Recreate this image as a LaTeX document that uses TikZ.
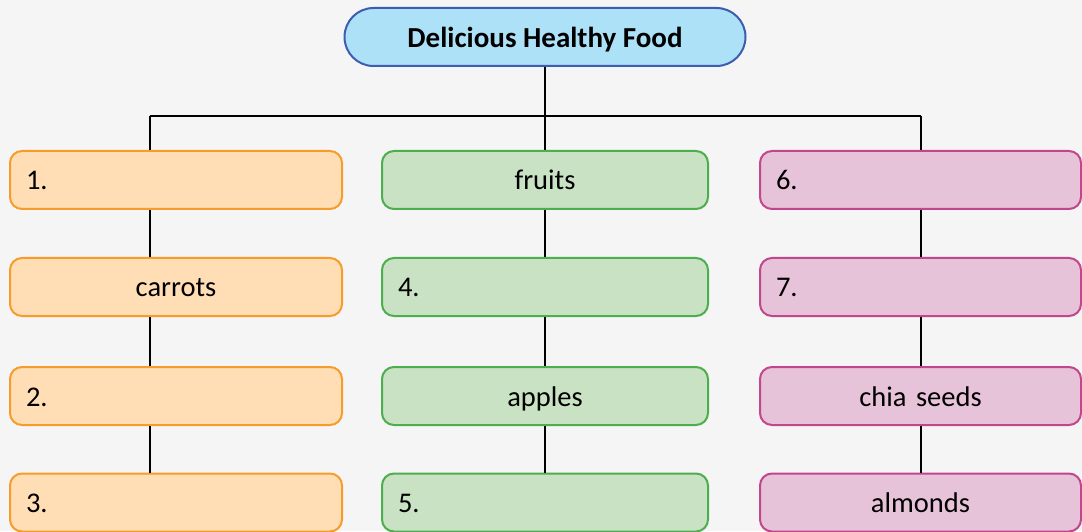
\documentclass[tikz,border=0pt]{standalone}
\usepackage{fontspec}
\setmainfont{Carlito}
\definecolor{bgc}{HTML}{F5F5F5}
\definecolor{topfill}{HTML}{ADE1F8}
\definecolor{topdraw}{HTML}{3D5DAE}
\definecolor{orfill}{HTML}{FFDEB6}
\definecolor{ordraw}{HTML}{F79B2B}
\definecolor{grfill}{HTML}{C9E2C4}
\definecolor{grdraw}{HTML}{4DAE4E}
\definecolor{pkfill}{HTML}{E7C3D9}
\definecolor{pkdraw}{HTML}{C1468C}
\tikzset{
  conn/.style={draw=black, line width=2pt},
  boxbase/.style={rectangle, rounded corners=12pt, line width=2pt, minimum height=58pt,
    inner xsep=16pt, inner ysep=0pt, text height=20pt, text depth=0pt,
    font=\fontsize{28.5}{32}\selectfont, anchor=center},
  orbox/.style={boxbase, fill=orfill, draw=ordraw, text width=300pt, minimum width=332pt},
  grbox/.style={boxbase, fill=grfill, draw=grdraw, text width=294pt, minimum width=326pt},
  pkbox/.style={boxbase, fill=pkfill, draw=pkdraw, text width=289pt, minimum width=321pt},
  topbox/.style={rectangle, rounded corners=29pt, line width=2pt, fill=topfill, draw=topdraw,
    minimum width=401pt, minimum height=58pt, inner ysep=0pt, text height=22pt, text depth=0pt,
    font=\fontsize{29}{33}\selectfont\bfseries}
}
\begin{document}
\begin{tikzpicture}[x=1pt,y=1pt]
\fill[bgc] (0,0) rectangle (1082,531);
\useasboundingbox (0,0) rectangle (1082,531);
% top
\node[topbox] (top) at (545,494) {Delicious Healthy Food};
% junctions
\coordinate (jL) at (150,415);
\coordinate (jM) at (545,415);
\coordinate (jR) at (921,415);
% left column
\node[orbox, align=left]   (a1) at (176,351) {1.};
\node[orbox, align=center] (a2) at (176,244) {carrots};
\node[orbox, align=left]   (a3) at (176,135) {2.};
\node[orbox, align=left]   (a4) at (176,28.5) {3.};
% middle column
\node[grbox, align=center] (b1) at (545,351) {fruits};
\node[grbox, align=left]   (b2) at (545,244) {4.};
\node[grbox, align=center] (b3) at (545,135) {apples};
\node[grbox, align=left]   (b4) at (545,28.5) {5.};
% right column
\node[pkbox, align=left]   (c1) at (920.5,351) {6.};
\node[pkbox, align=left]   (c2) at (920.5,244) {7.};
\node[pkbox, align=center] (c3) at (920.5,135) {chia seeds};
\node[pkbox, align=center] (c4) at (920.5,28.5) {almonds};
% connectors
\draw[conn] (top.south) -- (jM);
\draw[conn] (jL) -- (jR);
\draw[conn] (jL) -- (jL |- a1.north);
\draw[conn] (jM) -- (b1.north);
\draw[conn] (jR) -- (jR |- c1.north);
\draw[conn] (jL |- a1.south) -- (jL |- a2.north);
\draw[conn] (jL |- a2.south) -- (jL |- a3.north);
\draw[conn] (jL |- a3.south) -- (jL |- a4.north);
\draw[conn] (b1.south) -- (b2.north);
\draw[conn] (b2.south) -- (b3.north);
\draw[conn] (b3.south) -- (b4.north);
\draw[conn] (jR |- c1.south) -- (jR |- c2.north);
\draw[conn] (jR |- c2.south) -- (jR |- c3.north);
\draw[conn] (jR |- c3.south) -- (jR |- c4.north);
\end{tikzpicture}
\end{document}
